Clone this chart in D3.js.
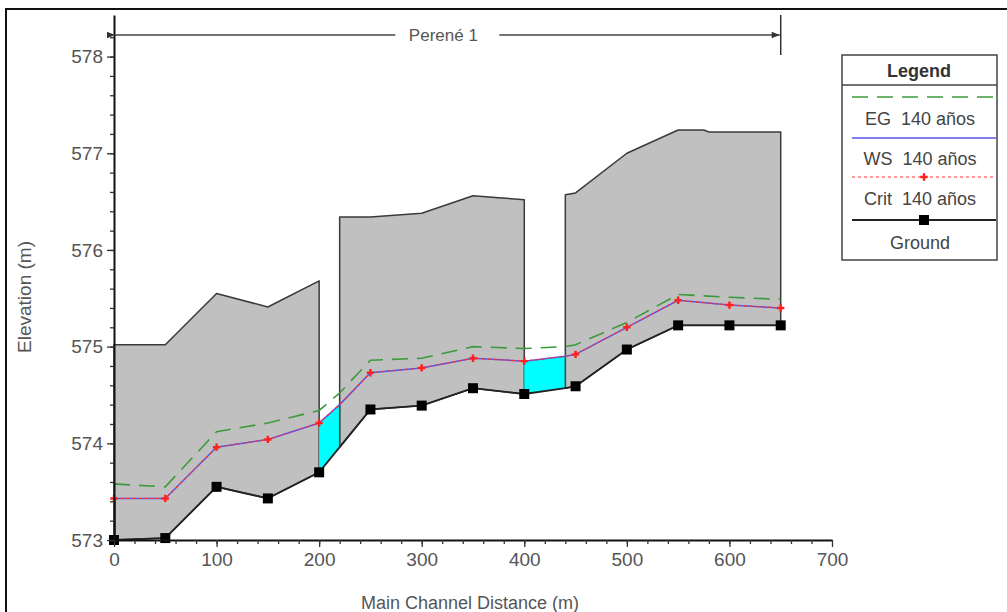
<!DOCTYPE html>
<html>
<head>
<meta charset="utf-8">
<script src="https://cdn.jsdelivr.net/npm/d3@7"></script>
<style>
  body { margin: 0; background: #fff; }
  text { font-family: "Liberation Sans", Arial, sans-serif; }
</style>
</head>
<body>
<div id="chart"></div>
<script>
// Profile data (distance in m, elevation in m)
var distance = [0, 50, 100, 150, 200, 220, 250, 300, 350, 400, 440, 450, 500, 550, 600, 650];
var groundElev = [573.00, 573.02, 573.55, 573.43, 573.70, 573.96, 574.35, 574.39, 574.57, 574.51, 574.57, 574.59, 574.97, 575.22, 575.22, 575.22];
var wsElev = [573.43, 573.43, 573.96, 574.04, 574.21, 574.40, 574.73, 574.78, 574.88, 574.85, 574.90, 574.92, 575.20, 575.48, 575.43, 575.40];
var critElev = [573.43, 573.43, 573.96, 574.04, 574.21, 574.40, 574.73, 574.78, 574.88, 574.85, 574.90, 574.92, 575.20, 575.48, 575.43, 575.40];
var egElev = [573.58, 573.55, 574.12, 574.21, 574.34, 574.52, 574.86, 574.88, 575.00, 574.98, 575.00, 575.02, 575.25, 575.54, 575.51, 575.49];

// cross sections that get markers
var sectionStations = [0, 50, 100, 150, 200, 250, 300, 350, 400, 450, 500, 550, 600, 650];

// gray blocks (top outline)
var block1Dist = [0, 50, 100, 150, 200];
var block1Top = [575.02, 575.02, 575.55, 575.41, 575.68];
var block2Dist = [220, 250, 300, 350, 375, 400];
var block2Top = [576.34, 576.34, 576.38, 576.56, 576.54, 576.52];
var block3Dist = [440, 450, 500, 550, 575, 580, 650];
var block3Top = [576.57, 576.59, 577.00, 577.24, 577.24, 577.22, 577.22];

// water in the openings
var gapRanges = [[200, 220], [400, 440]];

var xTicks = [0, 100, 200, 300, 400, 500, 600, 700];
var yTicks = [573, 574, 575, 576, 577, 578];
var reachName = "Perené 1";

var legendItems = ["EG  140 años", "WS  140 años", "Crit  140 años", "Ground"];

var W = 1007, H = 612;
var svg = d3.select("#chart").append("svg")
  .attr("width", W).attr("height", H);

// outer frame
svg.append("rect")
  .attr("x", 6).attr("y", 9).attr("width", 1010).attr("height", 620)
  .attr("fill", "none").attr("stroke", "#111").attr("stroke-width", 2);

var x = d3.scaleLinear().domain([0, 700]).range([114, 832]);
var y = d3.scaleLinear().domain([573, 578.43]).range([540, 15]);

function rows(xs, ys) {
  return xs.map(function (d, i) { return [d, ys[i]]; });
}
var groundPts = rows(distance, groundElev);
var wsPts = rows(distance, wsElev);
var critPts = rows(distance, critElev);
var egPts = rows(distance, egElev);

function within(pts, a, b) {
  return pts.filter(function (p) { return p[0] >= a && p[0] <= b; });
}

var line = d3.line()
  .x(function (d) { return x(d[0]); })
  .y(function (d) { return y(d[1]); });

// gray blocks: top outline then back along ground
[[block1Dist, block1Top], [block2Dist, block2Top], [block3Dist, block3Top]].forEach(function (b) {
  var top = rows(b[0], b[1]);
  var a = b[0][0], e = b[0][b[0].length - 1];
  var bottom = within(groundPts, a, e).slice().reverse();
  var poly = top.concat(bottom);
  svg.append("path")
    .attr("d", line(poly) + "Z")
    .attr("fill", "#c0c0c0")
    .attr("stroke", "#3a3a3a")
    .attr("stroke-width", 1.5)
    .attr("stroke-linejoin", "round");
});

// water in openings
gapRanges.forEach(function (g) {
  var top = within(wsPts, g[0], g[1]);
  var bottom = within(groundPts, g[0], g[1]).slice().reverse();
  svg.append("path")
    .attr("d", line(top.concat(bottom)) + "Z")
    .attr("fill", "#00ffff")
    .attr("stroke", "none");
  svg.append("line")
    .attr("x1", x(g[1])).attr("x2", x(g[1]))
    .attr("y1", y(top[top.length - 1][1])).attr("y2", y(bottom[0][1]))
    .attr("stroke", "#1a5a5a").attr("stroke-width", 1.5);
});

// water at upstream boundary
svg.append("line")
  .attr("x1", x(0) + 1).attr("x2", x(0) + 1)
  .attr("y1", y(wsElev[0])).attr("y2", y(groundElev[0]))
  .attr("stroke", "#0a7a7a").attr("stroke-width", 2);

// EG
svg.append("path").attr("d", line(egPts))
  .attr("fill", "none").attr("stroke", "#3c9a3c").attr("stroke-width", 1.6)
  .attr("stroke-dasharray", "16,9");

// WS
svg.append("path").attr("d", line(wsPts))
  .attr("fill", "none").attr("stroke", "#5555ee").attr("stroke-width", 1.5);

// Crit
svg.append("path").attr("d", line(critPts))
  .attr("fill", "none").attr("stroke", "#ff3030").attr("stroke-width", 1.2)
  .attr("stroke-dasharray", "3,3");

var critMarks = critPts.filter(function (p) { return sectionStations.indexOf(p[0]) >= 0; });
svg.selectAll(".crit").data(critMarks).enter().append("path")
  .attr("class", "crit")
  .attr("d", d3.symbol().type(d3.symbolCross).size(30))
  .attr("transform", function (d) { return "translate(" + x(d[0]) + "," + y(d[1]) + ")"; })
  .attr("fill", "#ff2020");

// Ground
svg.append("path").attr("d", line(groundPts))
  .attr("fill", "none").attr("stroke", "#222").attr("stroke-width", 1.8);

var groundMarks = groundPts.filter(function (p) { return sectionStations.indexOf(p[0]) >= 0; });
svg.selectAll(".gnd").data(groundMarks).enter().append("rect")
  .attr("class", "gnd")
  .attr("x", function (d) { return x(d[0]) - 5; })
  .attr("y", function (d) { return y(d[1]) - 5; })
  .attr("width", 10).attr("height", 10)
  .attr("fill", "#000");

// axes
var xAxis = svg.append("g")
  .attr("transform", "translate(0," + y(573) + ")")
  .call(d3.axisBottom(x).tickValues(xTicks).tickSize(7).tickSizeOuter(0).tickPadding(6));
svg.append("g")
  .attr("transform", "translate(0," + y(573) + ")")
  .call(d3.axisBottom(x).tickValues(d3.range(20, 700, 20)).tickSize(4).tickSizeOuter(0).tickFormat(""))
  .select(".domain").remove();

var yAxis = svg.append("g")
  .attr("transform", "translate(" + x(0) + ",0)")
  .call(d3.axisLeft(y).tickValues(yTicks).tickSize(7).tickSizeOuter(0).tickPadding(4).tickFormat(d3.format("d")));
svg.append("g")
  .attr("transform", "translate(" + x(0) + ",0)")
  .call(d3.axisLeft(y).tickValues(d3.range(573.2, 578.4, 0.2)).tickSize(4).tickSizeOuter(0).tickFormat(""))
  .select(".domain").remove();

svg.selectAll(".domain").attr("stroke", "#111").attr("stroke-width", 2);
svg.selectAll(".tick line").attr("stroke", "#333").attr("stroke-width", 1.3);
svg.selectAll(".tick text").attr("fill", "#555").style("font-size", "19px")
  .style("font-family", "'Liberation Sans', Arial, sans-serif");

// axis titles
svg.append("text")
  .attr("x", 470).attr("y", 609)
  .attr("text-anchor", "middle")
  .attr("fill", "#555").style("font-size", "18px")
  .text("Main Channel Distance (m)");
svg.append("text")
  .attr("transform", "translate(31,297) rotate(-90)")
  .attr("text-anchor", "middle")
  .attr("fill", "#555").style("font-size", "19px")
  .text("Elevation (m)");

// reach arrow
var defs = svg.append("defs");
defs.append("marker").attr("id", "arrowL").attr("viewBox", "0 0 10 10")
  .attr("refX", 0).attr("refY", 5).attr("markerWidth", 10).attr("markerHeight", 8)
  .attr("markerUnits", "userSpaceOnUse").attr("orient", "auto")
  .append("path").attr("d", "M10,1L0,5L10,9Z").attr("fill", "#333");
defs.append("marker").attr("id", "arrowR").attr("viewBox", "0 0 10 10")
  .attr("refX", 10).attr("refY", 5).attr("markerWidth", 10).attr("markerHeight", 8)
  .attr("markerUnits", "userSpaceOnUse").attr("orient", "auto")
  .append("path").attr("d", "M0,1L10,5L0,9Z").attr("fill", "#333");

var reachStart = distance[0], reachEnd = distance[distance.length - 1];
var xs = x(reachStart), xe = x(reachEnd), xm = (xs + xe) / 2, ay = 35;
svg.append("line").attr("x1", xm - 52).attr("x2", xs + 1).attr("y1", ay).attr("y2", ay)
  .attr("stroke", "#444").attr("stroke-width", 1.5).attr("marker-end", "url(#arrowL)");
svg.append("line").attr("x1", xm + 52).attr("x2", xe - 1).attr("y1", ay).attr("y2", ay)
  .attr("stroke", "#444").attr("stroke-width", 1.5).attr("marker-end", "url(#arrowR)");
svg.append("line").attr("x1", xe).attr("x2", xe).attr("y1", 15).attr("y2", 55)
  .attr("stroke", "#333").attr("stroke-width", 1.5);
svg.append("text").attr("x", xm - 4).attr("y", ay + 6)
  .attr("text-anchor", "middle").attr("fill", "#555").style("font-size", "17px")
  .text(reachName);

// legend
var lg = svg.append("g");
lg.append("rect").attr("x", 842).attr("y", 55).attr("width", 155).attr("height", 205)
  .attr("fill", "#fff").attr("stroke", "#444").attr("stroke-width", 1.5);
lg.append("line").attr("x1", 842).attr("x2", 997).attr("y1", 85).attr("y2", 85)
  .attr("stroke", "#444").attr("stroke-width", 1.5);
lg.append("text").attr("x", 919).attr("y", 77).attr("text-anchor", "middle")
  .attr("fill", "#333").style("font-size", "18px").style("font-weight", "bold")
  .text("Legend");

var lineY = [97, 138, 177, 220];
var textY = [125, 165, 205, 249];
var lx1 = 852, lx2 = 996, lmid = (lx1 + lx2) / 2;
lg.append("line").attr("x1", lx1).attr("x2", lx2).attr("y1", lineY[0]).attr("y2", lineY[0])
  .attr("stroke", "#3c9a3c").attr("stroke-width", 1.6).attr("stroke-dasharray", "16,9");
lg.append("line").attr("x1", lx1).attr("x2", lx2).attr("y1", lineY[1]).attr("y2", lineY[1])
  .attr("stroke", "#5555ee").attr("stroke-width", 1.5);
lg.append("line").attr("x1", lx1).attr("x2", lx2).attr("y1", lineY[2]).attr("y2", lineY[2])
  .attr("stroke", "#ff3030").attr("stroke-width", 1.2).attr("stroke-dasharray", "3,3");
lg.append("path").attr("d", d3.symbol().type(d3.symbolCross).size(30))
  .attr("transform", "translate(" + lmid + "," + lineY[2] + ")").attr("fill", "#ff2020");
lg.append("line").attr("x1", lx1).attr("x2", lx2).attr("y1", lineY[3]).attr("y2", lineY[3])
  .attr("stroke", "#222").attr("stroke-width", 1.8);
lg.append("rect").attr("x", lmid - 5).attr("y", lineY[3] - 5).attr("width", 10).attr("height", 10)
  .attr("fill", "#000");

lg.selectAll(".ltxt").data(legendItems).enter().append("text")
  .attr("class", "ltxt")
  .attr("x", 920).attr("y", function (d, i) { return textY[i]; })
  .attr("text-anchor", "middle").attr("fill", "#444").style("font-size", "18px")
  .style("white-space", "pre").attr("xml:space", "preserve")
  .text(function (d) { return d; });
</script>
</body>
</html>
